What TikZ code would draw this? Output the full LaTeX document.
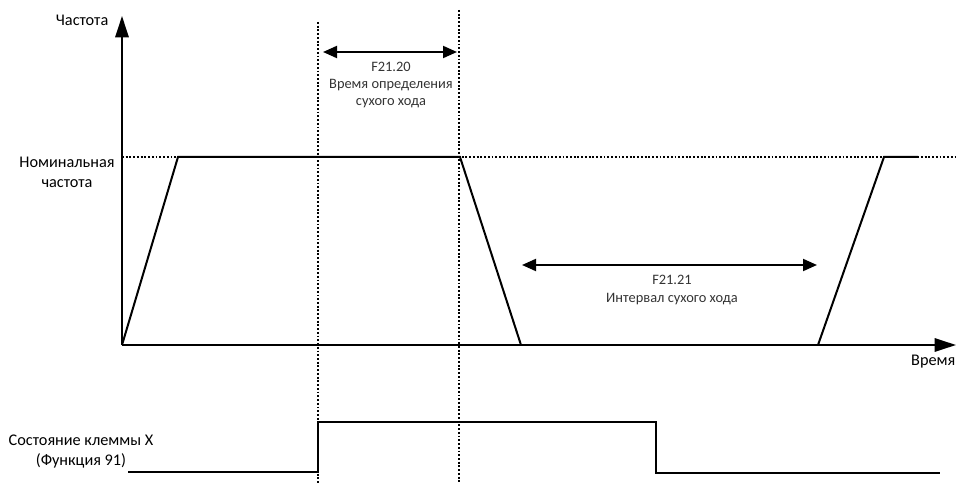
\documentclass[tikz,border=0pt]{standalone}
\usepackage{fontspec}
\setmainfont{Carlito}
\usetikzlibrary{arrows.meta}

\begin{document}
\begin{tikzpicture}[x=0.75pt,y=-0.75pt,
  axis/.style={line width=1.5pt, -{Triangle[length=16pt,width=10pt]}},
  curve/.style={line width=1.5pt, line join=miter},
  guide/.style={line width=1.4pt, dash pattern=on 1.4pt off 1.4pt},
  span/.style={line width=1.5pt, {Triangle[length=10.5pt,width=9pt]}-{Triangle[length=10.5pt,width=9pt]}},
  lbl/.style={font=\fontsize{12.2}{15}\selectfont, align=center},
  note/.style={font=\fontsize{10.8}{12.8}\selectfont, align=center, text=black!80}]

\useasboundingbox (0,0) rectangle (958,485);

% axes
\coordinate (o) at (122,345);
\coordinate (ytop) at (122,16);
\coordinate (xend) at (956,345);
\draw[axis] (o) -- (ytop);
\draw[axis] (o) -- (xend);
\node[lbl, anchor=east] (freqlbl) at (113,20) {Частота};
\node[lbl, anchor=east] (timelbl) at (960,362) {Время};

% nominal level
\coordinate (n0) at (122,157);
\coordinate (n1) at (958,157);
\draw[guide] (n0) -- (n1);
\node[lbl] (nomlbl) at (67,172) {Номинальная\\частота};

% dotted time marks
\coordinate (a1) at (318,22);
\coordinate (a2) at (318,484);
\coordinate (b1) at (459,10);
\coordinate (b2) at (459,484);
\draw[guide] (a1) -- (a2);
\draw[guide] (b1) -- (b2);

% frequency curve
\coordinate (p1) at (178,157);
\coordinate (p2) at (460,157);
\coordinate (p3) at (521,345);
\coordinate (p4) at (818,345);
\coordinate (p5) at (884,157);
\coordinate (p6) at (918,157);
\draw[curve] (o) -- (p1) -- (p2) -- (p3);
\draw[curve] (p4) -- (p5) -- (p6);

% detection time
\coordinate (s1) at (323,52);
\coordinate (s2) at (457,52);
\draw[span] (s1) -- (s2);
\node[note] (t20lbl) at (391,85) {F21.20\\Время определения\\сухого хода};

% dry run interval
\coordinate (r1) at (522,265);
\coordinate (r2) at (817,265);
\draw[span] (r1) -- (r2);
\node[note] (t21lbl) at (672,290) {F21.21\\Интервал сухого хода};

% terminal state
\coordinate (q0) at (128,472);
\coordinate (q1) at (318,472);
\coordinate (q2) at (318,422);
\coordinate (q3) at (656,422);
\coordinate (q4) at (656,473);
\coordinate (q5) at (940,473);
\draw[curve] (q0) -- (q1) -- (q2) -- (q3) -- (q4) -- (q5);
\node[lbl] (statelbl) at (81,452) {Состояние клеммы X\\(Функция 91)};
\end{tikzpicture}
\end{document}
